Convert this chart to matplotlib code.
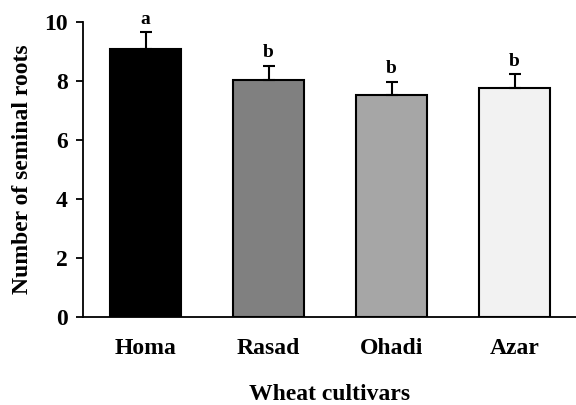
import numpy as np
import matplotlib.pyplot as plt

# data
cultivars = ['Homa', 'Rasad', 'Ohadi', 'Azar']
roots = [9.08, 8.02, 7.53, 7.77]
err = [0.57, 0.50, 0.45, 0.46]
letters = ['a', 'b', 'b', 'b']
colors = ['#000000', '#808080', '#a6a6a6', '#f2f2f2']

plt.rcParams['font.family'] = ['Liberation Serif', 'DejaVu Serif']
plt.rcParams['font.weight'] = 'bold'

fig = plt.figure(figsize=(5.76, 4.05), dpi=100)
ax = fig.add_axes([0.144, 0.217, 0.856, 0.729])

x = np.arange(len(cultivars))
ax.bar(x, roots, width=0.58, color=colors, edgecolor='black', linewidth=1.5, zorder=2)
ax.errorbar(x, roots, yerr=[np.zeros(len(err)), err], fmt='none', ecolor='black',
            elinewidth=1.5, capsize=4.5, capthick=1.5, zorder=3)

# significance letters just above the error bars
for i in range(len(x)):
    ax.text(x[i], roots[i] + err[i] + 0.15, letters[i], ha='center', va='bottom',
            fontsize=14, fontweight='bold', clip_on=False)

ax.set_xlim(-0.51, 3.5)
ax.set_ylim(0, 10)
ax.set_yticks([0, 2, 4, 6, 8, 10])
ax.set_xticks(x)
ax.set_xticklabels(cultivars)
ax.tick_params(axis='x', length=0, pad=15, labelsize=17)
ax.tick_params(axis='y', length=5, width=1.3, pad=6, labelsize=17, direction='out')
for lab in ax.get_xticklabels() + ax.get_yticklabels():
    lab.set_fontweight('bold')

ax.spines['top'].set_visible(False)
ax.spines['right'].set_visible(False)
ax.spines['left'].set_linewidth(1.3)
ax.spines['bottom'].set_linewidth(1.3)

ax.set_ylabel('Number of seminal roots', fontsize=17, fontweight='bold', labelpad=8)
ax.set_xlabel('Wheat cultivars', fontsize=17, fontweight='bold', labelpad=18)

fig.savefig('out.png', dpi=100)
